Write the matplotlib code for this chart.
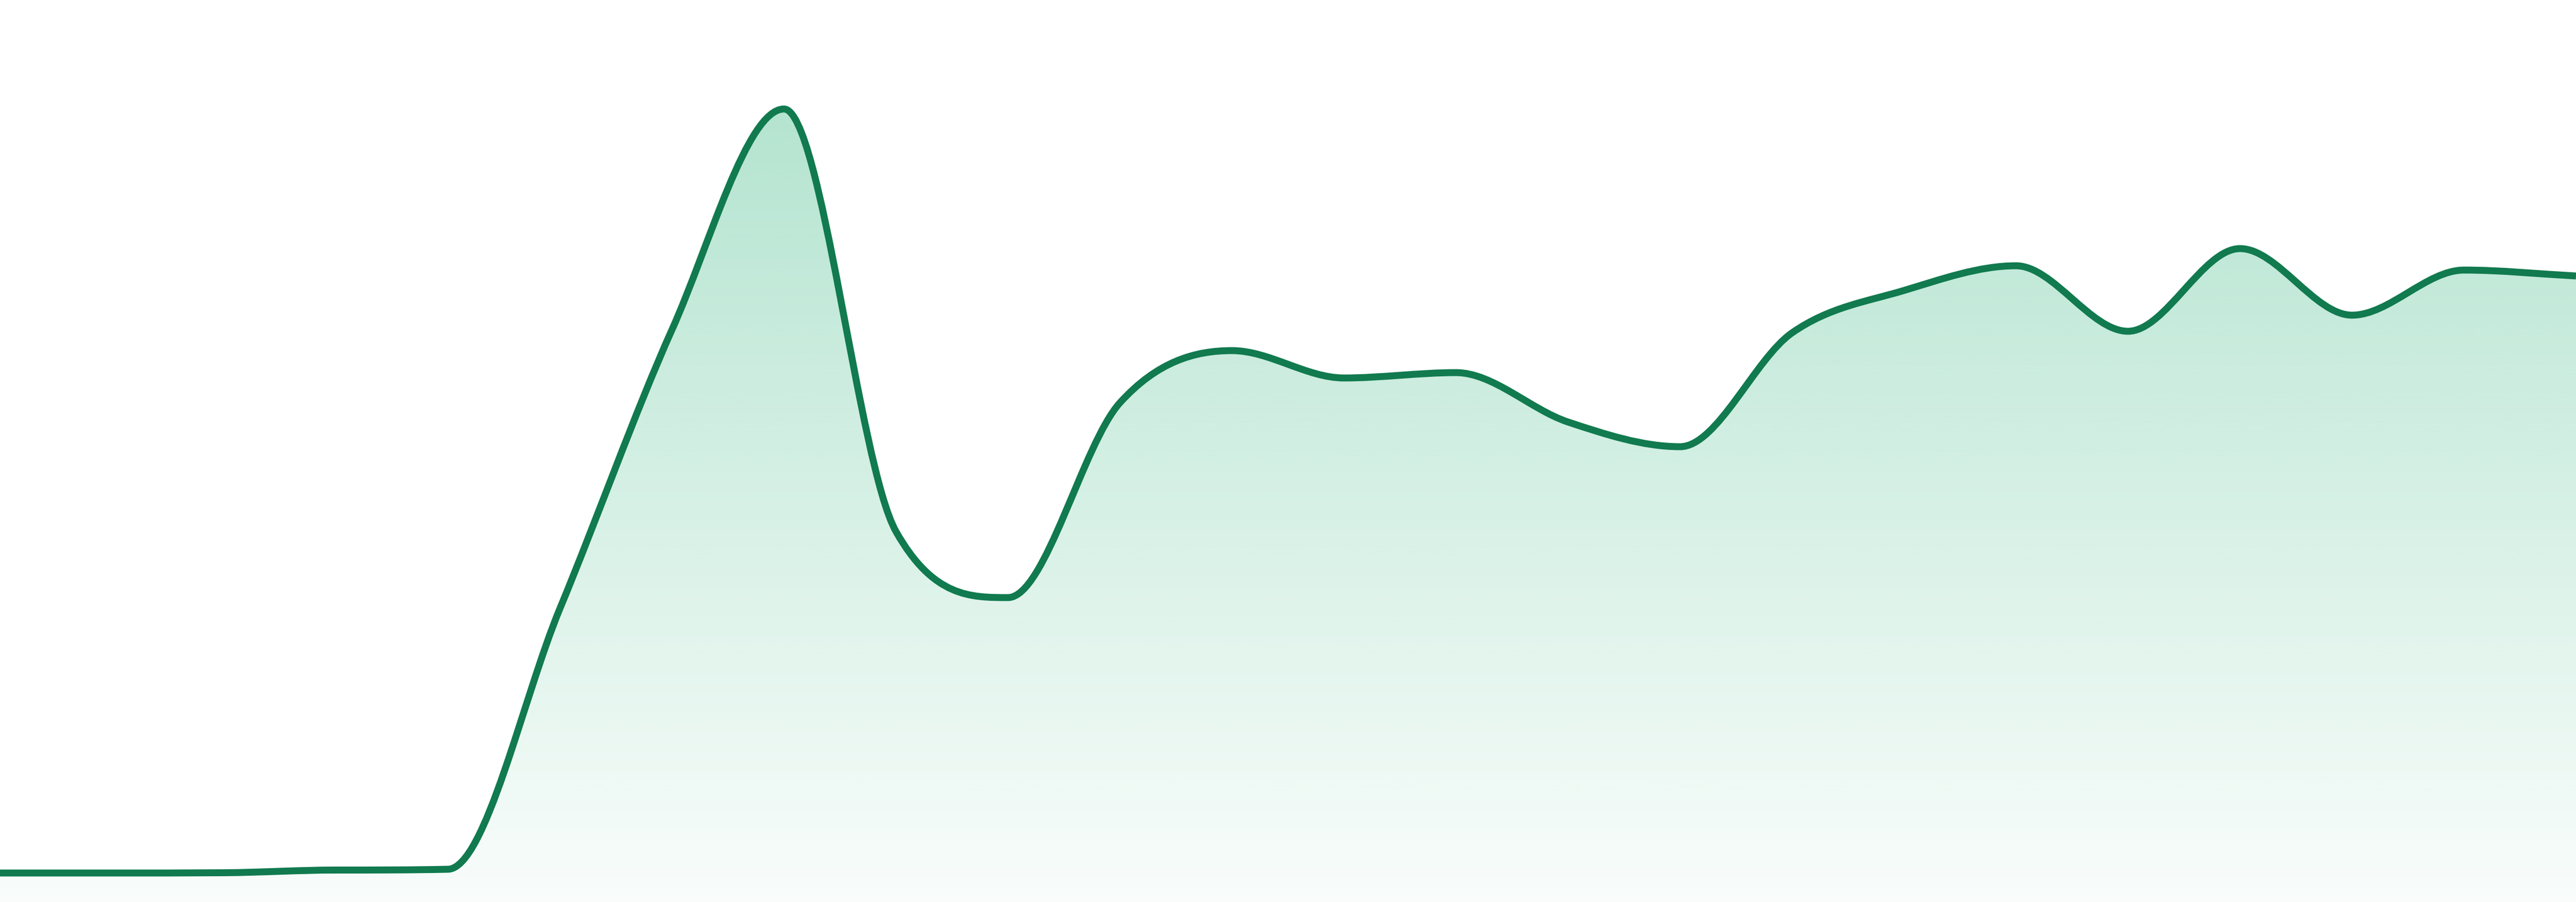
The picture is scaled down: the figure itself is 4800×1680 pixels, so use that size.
import numpy as np
import matplotlib
matplotlib.use("Agg")
from matplotlib import pyplot as plt
from matplotlib.path import Path
from matplotlib.patches import PathPatch


# one value per step, 24 evenly spaced steps across the width
steps = list(range(24))
values = [5.4, 5.4, 5.45, 5.95, 6.1, 54.7, 106.6, 147.7, 69.0, 56.7, 93.0, 102.7,
          97.6, 98.6, 89.4, 84.8, 106.0, 113.9, 118.5, 106.3, 121.7, 109.3, 117.7, 116.6]

LINE_COLOR = "#117a4f"
FILL_RGB = (41 / 255.0, 178 / 255.0, 121 / 255.0)


def monotone_slopes(x, y):
	# Fritsch-Carlson tangents, the way chart.js does its "monotone" lines
	n = len(x)
	delta = np.zeros(n)
	for i in range(n - 1):
		delta[i] = (y[i + 1] - y[i]) / (x[i + 1] - x[i])
	m = np.zeros(n)
	m[0] = delta[0]
	m[-1] = delta[n - 2]
	for i in range(1, n - 1):
		if np.sign(delta[i - 1]) != np.sign(delta[i]):
			m[i] = 0.0
		else:
			m[i] = (delta[i - 1] + delta[i]) / 2.0
	for i in range(n - 1):
		if abs(delta[i]) < 1e-12:
			m[i] = m[i + 1] = 0.0
			continue
		a = m[i] / delta[i]
		b = m[i + 1] / delta[i]
		mag = a * a + b * b
		if mag <= 9:
			continue
		tau = 3.0 / np.sqrt(mag)
		m[i] = a * tau * delta[i]
		m[i + 1] = b * tau * delta[i]
	return m


def curve_vertices(x, y):
	t = monotone_slopes(x, y)
	verts = [(x[0], y[0])]
	codes = [Path.MOVETO]
	for i in range(len(x) - 1):
		dx = (x[i + 1] - x[i]) / 3.0
		verts.append((x[i] + dx, y[i] + dx * t[i]))
		verts.append((x[i + 1] - dx, y[i + 1] - dx * t[i + 1]))
		verts.append((x[i + 1], y[i + 1]))
		codes += [Path.CURVE4] * 3
	return verts, codes


x = np.array(steps, dtype=float)
y = np.array(values, dtype=float)

fig = plt.figure(figsize=(16, 5.6), dpi=300)
ax = fig.add_axes([0, 0, 1, 1])
ax.set_xlim(x[0], x[-1])
ax.set_ylim(0, 168)
ax.axis("off")

verts, codes = curve_vertices(x, y)

# area under the curve, used as clip for the gradient
area_verts = verts + [(x[-1], 0), (x[0], 0), (x[0], y[0])]
area_codes = codes + [Path.LINETO, Path.LINETO, Path.CLOSEPOLY]
area = PathPatch(Path(area_verts, area_codes), facecolor="none", edgecolor="none")
ax.add_patch(area)

grad = np.zeros((256, 1, 4))
grad[:, 0, 0] = FILL_RGB[0]
grad[:, 0, 1] = FILL_RGB[1]
grad[:, 0, 2] = FILL_RGB[2]
grad[:, 0, 3] = np.linspace(0.35, 0.03, 256)
img = ax.imshow(grad, extent=[x[0], x[-1], 0, y.max()], aspect="auto",
	interpolation="bilinear", origin="upper", zorder=1)
img.set_clip_path(area)

line = PathPatch(Path(verts, codes), facecolor="none", edgecolor=LINE_COLOR,
	lw=3.1, joinstyle="round", capstyle="butt", zorder=2)
ax.add_patch(line)

fig.savefig("out.png", dpi=300, facecolor="white")
